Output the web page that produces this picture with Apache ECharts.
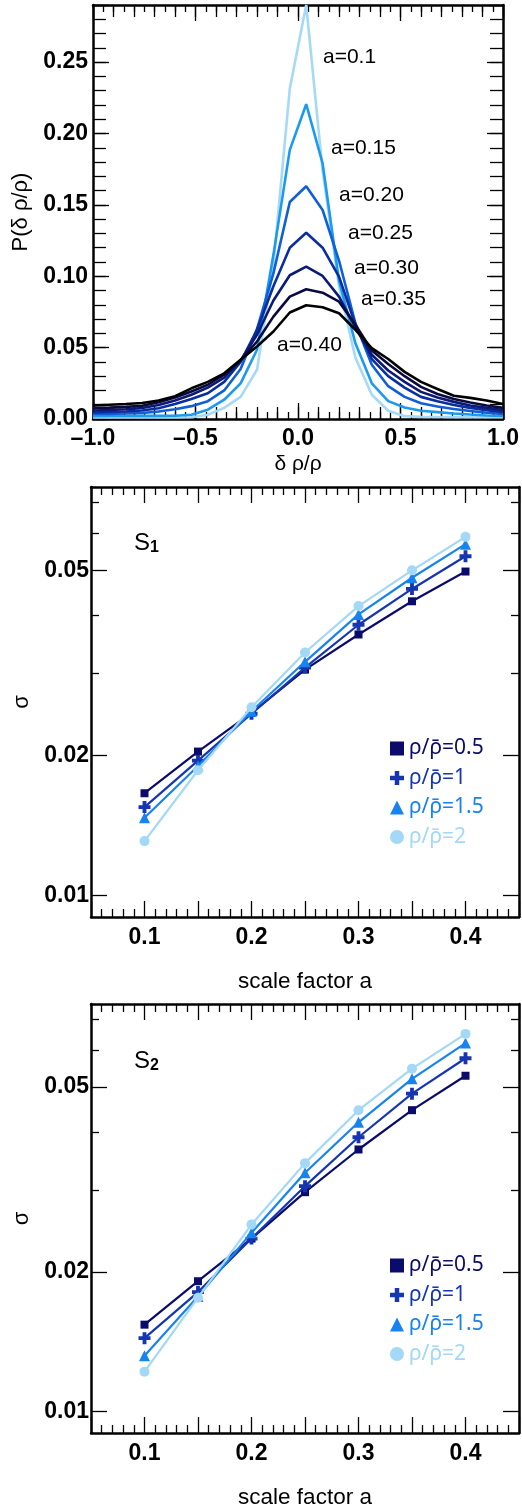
<!DOCTYPE html>
<html>
<head>
<meta charset="utf-8">
<script src="https://cdn.jsdelivr.net/npm/echarts@6/dist/echarts.min.js"></script>
<style>
html,body{margin:0;padding:0;background:#fff;}
#c{width:522px;height:1510px;}
</style>
</head>
<body>
<div id="c"></div>
<script>
// ---------- DATA ----------
// Panel 1: PDF of density contrast, bins of delta rho / rho
const deltaBins = [-1.00,-0.92,-0.84,-0.76,-0.68,-0.60,-0.52,-0.44,-0.36,-0.28,-0.20,-0.12,-0.04,0.04,0.12,0.20,0.28,0.36,0.44,0.52,0.60,0.68,0.76,0.84,0.92,1.00];
const pdfLabels = ['a=0.1','a=0.15','a=0.20','a=0.25','a=0.30','a=0.35','a=0.40'];
const pdf_a010 = [0.0010,0.0010,0.0010,0.0010,0.0010,0.0010,0.0012,0.0030,0.0078,0.0155,0.0345,0.108,0.2315,0.290,0.174,0.093,0.043,0.017,0.0058,0.0020,0.0015,0.0014,0.0013,0.0012,0.0012,0.0012];
const pdf_a015 = [0.0020,0.0021,0.0021,0.0022,0.0022,0.0023,0.0030,0.0065,0.0135,0.0250,0.0485,0.115,0.1885,0.2205,0.179,0.097,0.053,0.025,0.0125,0.0080,0.0058,0.0048,0.0038,0.0031,0.0025,0.0021];
const pdf_a020 = [0.0035,0.0036,0.0038,0.0042,0.0052,0.0068,0.0090,0.0125,0.0200,0.0350,0.0630,0.102,0.152,0.163,0.1464,0.111,0.067,0.038,0.023,0.0155,0.0110,0.0088,0.0070,0.0056,0.0044,0.0035];
const pdf_a025 = [0.0046,0.0049,0.0053,0.0060,0.0075,0.0105,0.0140,0.0180,0.0260,0.0400,0.0625,0.093,0.120,0.1305,0.120,0.0997,0.066,0.042,0.030,0.022,0.0155,0.0125,0.0098,0.0078,0.0062,0.0048];
const pdf_a030 = [0.0060,0.0063,0.0068,0.0077,0.0098,0.0130,0.0170,0.0220,0.0290,0.0410,0.0590,0.083,0.1007,0.1067,0.1002,0.0857,0.064,0.045,0.034,0.026,0.019,0.0150,0.0120,0.0095,0.0078,0.0062];
const pdf_a035 = [0.0077,0.0080,0.0085,0.0093,0.0118,0.0150,0.0193,0.0240,0.0310,0.0410,0.0543,0.0717,0.0857,0.0909,0.0885,0.0822,0.066,0.048,0.0385,0.030,0.0225,0.0175,0.0140,0.0115,0.0095,0.0078];
const pdf_a040 = [0.0095,0.0100,0.0105,0.0112,0.0130,0.0160,0.0215,0.0260,0.0320,0.0415,0.0508,0.0613,0.0746,0.0797,0.0783,0.0741,0.0625,0.0497,0.0420,0.0330,0.0260,0.0210,0.0163,0.0148,0.0130,0.0105];
const pdfTickLabelsX = [-1.0,-0.5,0.0,0.5,1.0];
const pdfTickLabelsY = [0.00,0.05,0.10,0.15,0.20,0.25];

// Panels 2 & 3: sigma vs scale factor a
const scaleFactor = [0.10,0.15,0.20,0.25,0.30,0.35,0.40];
const ratioLabels = ['ρ/ρ\u0304=0.5','ρ/ρ\u0304=1','ρ/ρ\u0304=1.5','ρ/ρ\u0304=2'];
const s1_r05 = [0.0166,0.0204,0.0247,0.0306,0.0364,0.0429,0.0497];
const s1_r10 = [0.0155,0.0195,0.0246,0.0309,0.0382,0.0456,0.0536];
const s1_r15 = [0.0147,0.0190,0.0249,0.0318,0.0402,0.0482,0.0569];
const s1_r20 = [0.0131,0.0186,0.0254,0.0333,0.0419,0.0500,0.0590];
const s2_r05 = [0.0154,0.0191,0.0236,0.0297,0.0367,0.0446,0.0529];
const s2_r10 = [0.0144,0.0181,0.0236,0.0306,0.0390,0.0484,0.0577];
const s2_r15 = [0.0132,0.0177,0.0243,0.0327,0.0420,0.0521,0.0622];
const s2_r20 = [0.0122,0.0176,0.0253,0.0343,0.0446,0.0548,0.0651];
const sigmaTickLabels = [0.01,0.02,0.05];
const sigmaMinorTicks = [0.03,0.04,0.06,0.07];
const scaleTickLabels = [0.1,0.2,0.3,0.4];

// ---------- STYLE ----------
const FF = '"Liberation Sans", Arial, Helvetica, sans-serif';
const FF_LEG = '"Noto Sans", "DejaVu Sans", sans-serif';
const pdfColors = ['#a6d9f7','#1b9af0','#0f5fd6','#0b2e9e','#0b1a78','#0a0a40','#000000'];
const ratioColors = ['#0b0b6b','#1536b0','#1683ef','#a3d8f7'];
const plusPath = 'path://M3.4,0H6.6V3.4H10V6.6H6.6V10H3.4V6.6H0V3.4H3.4Z';
const ratioSymbols = ['rect', plusPath, 'triangle', 'circle'];
const ratioSymbolSizes = [8, 12, 11, 10];
const legendIcons = ['rect', plusPath, 'triangle', 'circle'];

const grids = [
  {left:93, top:5, width:414, height:414},
  {left:91, top:487, width:428, height:430},
  {left:91, top:1004, width:428, height:429}
];

const black = '#000';
const lineBox = {onZero:false, lineStyle:{color:black, width:2.5}};
const noLine = {show:false, onZero:false};
const tickStyle = {color:black, width:1.3};
const labelFont = {fontSize:23, fontWeight:'bold', color:black, fontFamily:FF};

function near(v, arr){ return arr.some(t => Math.abs(t - v) < 1e-6); }

// ---------- AXES ----------
const xAxes = [];
const yAxes = [];

function pdfX(pos, major, withLabel){
  return {
    gridIndex:0, type:'value', position:pos, min:-1, max:1,
    interval: major ? 0.5 : 0.1,
    axisLine: major ? lineBox : noLine,
    axisTick:{show:true, inside:true, length: major ? 16 : 12, lineStyle:tickStyle},
    minorTick:{show: major, splitNumber:10, length:7, lineStyle:tickStyle},
    splitLine:{show:false}, minorSplitLine:{show:false},
    axisLabel: withLabel ? Object.assign({show:true, margin:8,
      formatter: v => near(v, pdfTickLabelsX) ? (v < 0 ? '\u2013' : '') + Math.abs(v).toFixed(1) : ''}, labelFont) : {show:false},
    name: withLabel ? 'δ ρ/ρ' : '', nameLocation:'middle', nameGap:35,
    nameTextStyle:{fontSize:21, color:black, fontFamily:FF}
  };
}
xAxes.push(pdfX('bottom', true, true));
xAxes.push(pdfX('bottom', false, false));
xAxes.push(pdfX('top', true, false));
xAxes.push(pdfX('top', false, false));

function pdfY(pos, major, withLabel){
  return {
    gridIndex:0, type:'value', position:pos, min:0, max:0.29,
    interval: major ? 0.05 : 0.01,
    axisLine: major ? lineBox : noLine,
    axisTick:{show:true, inside:true, length: major ? 16 : 13, lineStyle:tickStyle},
    splitLine:{show:false},
    axisLabel: withLabel ? Object.assign({show:true, margin:5,
      formatter: v => near(v, pdfTickLabelsY) ? v.toFixed(2) : ''}, labelFont) : {show:false},
    name: withLabel ? 'P(δ ρ/ρ)' : '', nameLocation:'middle', nameGap:52,
    nameTextStyle:{fontSize:22, color:black, fontFamily:FF}
  };
}
yAxes.push(pdfY('left', true, true));
yAxes.push(pdfY('left', false, false));
yAxes.push(pdfY('right', true, false));
yAxes.push(pdfY('right', false, false));

// Panels 2 and 3
const logMin = 0.009, logMax = 0.0755;
const sigmaXIndex = [];
const sigmaYIndex = [];
[1,2].forEach(g => {
  ['bottom','top'].forEach(pos => {
    xAxes.push({
      gridIndex:g, type:'value', position:pos, min:0.05, max:0.45, interval:0.05,
      axisLine: lineBox,
      axisTick:{show:true, inside:true, length:16, lineStyle:tickStyle},
      minorTick:{show:true, splitNumber:5, length:8, lineStyle:tickStyle},
      splitLine:{show:false}, minorSplitLine:{show:false},
      axisLabel: pos === 'bottom' ? Object.assign({show:true, margin:9,
        formatter: v => near(v, scaleTickLabels) ? v.toFixed(1) : ''}, labelFont) : {show:false},
      name: pos === 'bottom' ? 'scale factor a' : '', nameLocation:'middle', nameGap:53,
      nameTextStyle:{fontSize:22.5, color:black, fontFamily:FF}
    });
  });
  sigmaXIndex.push(xAxes.length - 2);
  yAxes.push({gridIndex:g, type:'log', logBase:10, min:logMin, max:logMax, show:false});
  sigmaYIndex.push(yAxes.length - 1);
  ['left','right'].forEach(pos => {
    [true,false].forEach(major => {
      const vals = (major ? sigmaTickLabels : sigmaMinorTicks).map(v => Math.log10(v));
      yAxes.push({
        gridIndex:g, type:'value', position:pos, min:Math.log10(logMin), max:Math.log10(logMax),
        axisLine: major ? lineBox : noLine,
        axisTick:{show:true, inside:true, length: major ? 16 : 8, lineStyle:tickStyle, customValues: vals},
        splitLine:{show:false},
        axisLabel: (major && pos === 'left') ? Object.assign({show:true, margin:2, customValues: vals,
          formatter: v => Math.pow(10, v).toFixed(2)}, labelFont) : {show:false},
        name: (major && pos === 'left') ? 'σ' : '', nameLocation:'middle', nameGap:53,
        nameTextStyle:{fontSize:22, color:black, fontFamily:FF}
      });
    });
  });
});

// ---------- SERIES ----------
const series = [];
const pdfData = [pdf_a010, pdf_a015, pdf_a020, pdf_a025, pdf_a030, pdf_a035, pdf_a040];
pdfData.forEach((arr, i) => {
  series.push({
    type:'line', name:pdfLabels[i], xAxisIndex:0, yAxisIndex:0,
    data: deltaBins.map((x, k) => [x, arr[k]]),
    showSymbol:false, symbol:'none',
    lineStyle:{color:pdfColors[i], width:2.6}, itemStyle:{color:pdfColors[i]},
    z: 2 + i
  });
});
const sigmaData = [[s1_r05, s1_r10, s1_r15, s1_r20],[s2_r05, s2_r10, s2_r15, s2_r20]];
sigmaData.forEach((panel, p) => {
  panel.forEach((arr, i) => {
    series.push({
      type:'line', name:ratioLabels[i], xAxisIndex:sigmaXIndex[p], yAxisIndex:sigmaYIndex[p],
      data: scaleFactor.map((x, k) => [x, arr[k]]),
      symbol: ratioSymbols[i], symbolSize: ratioSymbolSizes[i], showAllSymbol:true,
      lineStyle:{color:ratioColors[i], width:2.2}, itemStyle:{color:ratioColors[i]},
      z: 2 + i
    });
  });
});

// ---------- LEGENDS & ANNOTATIONS ----------
function makeLegend(top){
  return {
    orient:'vertical', left:390, top:top, itemWidth:14, itemHeight:14, itemGap:8.5,
    selectedMode:false, padding:0,
    textStyle:{fontSize:21, fontFamily:FF_LEG},
    data: ratioLabels.map((n, i) => ({name:n, icon:legendIcons[i], textStyle:{color:ratioColors[i], fontSize:21, fontFamily:FF_LEG}}))
  };
}

const pdfLabelPos = [[323,57],[331,148],[339,195],[348,233],[354,268],[361,299],[277,345]];
const graphic = pdfLabels.map((t, i) => ({
  type:'text', x:pdfLabelPos[i][0], y:pdfLabelPos[i][1], z:100,
  style:{text:t, fontSize:21, fontFamily:FF, fill:black, align:'left', verticalAlign:'middle'}
}));
[[543, 'S', '1'], [1061, 'S', '2']].forEach(([cy, s, sub]) => {
  graphic.push({type:'text', x:134, y:cy, z:100, style:{text:s, fontSize:24, fontFamily:FF, fill:black, align:'left', verticalAlign:'middle'}});
  graphic.push({type:'text', x:150, y:cy+5, z:100, style:{text:sub, fontSize:16, fontWeight:'bold', fontFamily:FF, fill:black, align:'left', verticalAlign:'middle'}});
});

const chart = echarts.init(document.getElementById('c'), null, {renderer:'canvas'});
chart.setOption({
  animation:false,
  backgroundColor:'#fff',
  grid: grids,
  xAxis: xAxes,
  yAxis: yAxes,
  legend: [makeLegend(738), makeLegend(1255)],
  series: series,
  graphic: graphic
});
</script>
</body>
</html>
